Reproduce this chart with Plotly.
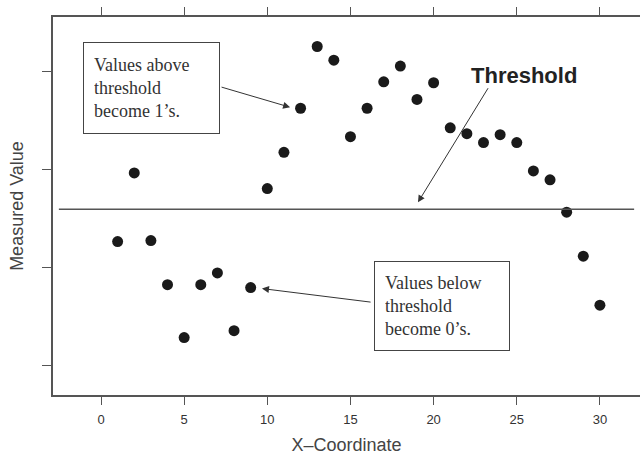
import plotly.graph_objects as go

# ---- data ----
x_coord = list(range(1, 31))
measured = [2.27, 2.97, 2.28, 1.83, 1.29, 1.83, 1.95, 1.36, 1.80, 2.81,
            3.18, 3.63, 4.26, 4.12, 3.34, 3.63, 3.90, 4.06, 3.72, 3.89,
            3.43, 3.37, 3.28, 3.36, 3.28, 2.99, 2.90, 2.57, 2.12, 1.62]
threshold = 2.60
x_ticks = [0, 5, 10, 15, 20, 25, 30]
y_ticks = [1, 2, 3, 4]

fig = go.Figure()
fig.add_trace(go.Scatter(
    x=x_coord, y=measured, mode="markers",
    marker=dict(size=11, color="#1a1a1a"),
    showlegend=False, hoverinfo="skip"))

fig.add_shape(type="line", xref="paper", yref="y",
              x0=0.01, x1=0.99, y0=threshold, y1=threshold,
              line=dict(color="#555555", width=1.5))

box_font = dict(family="Liberation Serif, Times New Roman, serif", size=18, color="#333333")
ann = [
    dict(x=3.04, y=3.84, xref="x", yref="y", showarrow=False,
         text="Values above<br>threshold<br>become 1’s.", align="left",
         font=box_font, bordercolor="#444444", borderwidth=1, borderpad=10,
         bgcolor="white", width=115, height=70, valign="middle"),
    dict(x=20.50, y=1.61, xref="x", yref="y", showarrow=False,
         text="Values below<br>threshold<br>become 0’s.", align="left",
         font=box_font, bordercolor="#444444", borderwidth=1, borderpad=10,
         bgcolor="white", width=114, height=68, valign="middle"),
    dict(x=25.44, y=3.96, xref="x", yref="y", showarrow=False,
         text="<b>Threshold</b>",
         font=dict(family="Liberation Sans, Arial, sans-serif", size=22, color="#222222")),
    # arrows
    dict(x=11.37, y=3.64, ax=7.16, ay=3.85, xref="x", yref="y", axref="x", ayref="y",
         text="", showarrow=True, arrowhead=2, arrowsize=1.4, arrowwidth=1,
         arrowcolor="#333333", standoff=0),
    dict(x=19.06, y=2.67, ax=23.33, ay=3.85, xref="x", yref="y", axref="x", ayref="y",
         text="", showarrow=True, arrowhead=2, arrowsize=1.4, arrowwidth=1,
         arrowcolor="#333333", standoff=0),
    dict(x=9.68, y=1.79, ax=16.30, ay=1.65, xref="x", yref="y", axref="x", ayref="y",
         text="", showarrow=True, arrowhead=2, arrowsize=1.4, arrowwidth=1,
         arrowcolor="#333333", standoff=0),
]
fig.update_layout(annotations=ann)

axis_font = dict(family="Liberation Sans, Arial, sans-serif", size=13, color="#333333")
title_font = dict(family="Liberation Sans, Arial, sans-serif", size=18, color="#444444")

fig.update_xaxes(range=[-2.886, 32.41], tickvals=x_ticks, ticktext=[str(v) for v in x_ticks],
                 showgrid=False, zeroline=False, showline=True, linecolor="#555555",
                 linewidth=1.5, mirror="ticks", ticks="outside", ticklen=8,
                 tickcolor="#555555", tickfont=axis_font, ticklabelstandoff=4,
                 automargin=False,
                 title=dict(text="X–Coordinate", font=title_font, standoff=16))
fig.update_yaxes(range=[0.704, 4.561], tickvals=y_ticks, showticklabels=False,
                 showgrid=False, zeroline=False, showline=True, linecolor="#555555",
                 linewidth=1.5, mirror=False, ticks="outside", ticklen=9,
                 tickcolor="#555555", automargin=False,
                 title=dict(text="Measured Value", font=title_font, standoff=14))

fig.update_layout(width=640, height=455, margin=dict(l=53, r=0, t=17, b=60),
                  plot_bgcolor="white", paper_bgcolor="white")

fig.write_html("out.html", config={"displayModeBar": False},
               post_script="document.body.style.margin='0';document.body.style.overflow='hidden';")
